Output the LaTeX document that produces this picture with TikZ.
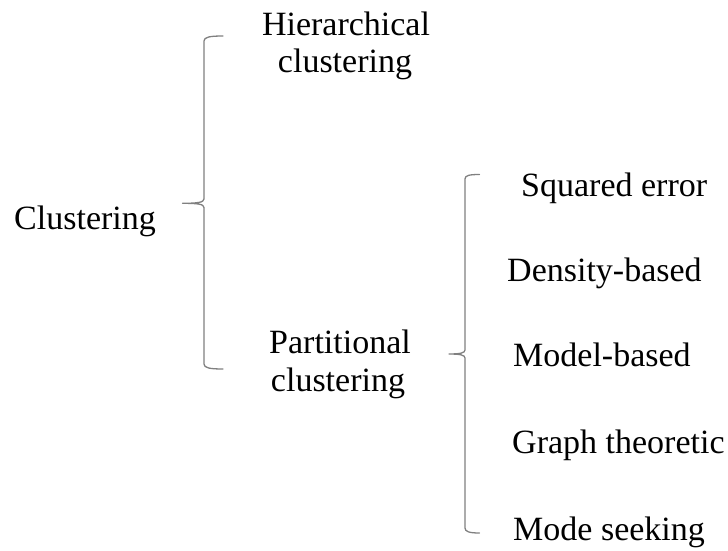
\documentclass[tikz,border=0pt]{standalone}
\usepackage{fontspec}
\setmainfont{Liberation Serif}
\begin{document}
\begin{tikzpicture}[x=1pt,y=1pt,
  label/.style={inner sep=0pt, font=\fontsize{34}{40}\selectfont},
  brace/.style={draw=black!50, line width=1.3pt, line cap=round, line join=round}]
\useasboundingbox (0,0) rectangle (728,550);

% root
\node[label, anchor=base west] (root) at (14,320.7) {Clustering};

% first level
\node[label, anchor=base] (hier1) at (346,514) {Hierarchical};
\node[label, anchor=base] (hier2) at (345,477) {clustering};
\node[label, anchor=base] (part1) at (340,196.5) {Partitional};
\node[label, anchor=base] (part2) at (338,158.8) {clustering};

% partitional methods
\node[label, anchor=base west] (sq)   at (521,354) {Squared error};
\node[label, anchor=base west] (dens) at (507,269) {Density-based};
\node[label, anchor=base west] (mod)  at (513,184) {Model-based};
\node[label, anchor=base west] (gr)   at (512,97)  {Graph theoretic};
\node[label, anchor=base west] (mode) at (513,9.5) {Mode seeking};

% brace grouping the two families
\coordinate (b1top) at (223,514);
\coordinate (b1tip) at (182.5,346.7);
\coordinate (b1bot) at (223,181);
\path[brace] (b1top) .. controls (210,514) and (204,513) .. (204,509)
  -- (204,351) .. controls (204,347.5) and (197,346.7) .. (b1tip)
  .. controls (197,346.7) and (204,346) .. (204,342.5)
  -- (204,186) .. controls (204,182) and (210,181) .. (b1bot);

% brace grouping the partitional methods
\coordinate (b2top) at (479.5,375.5);
\coordinate (b2tip) at (449,196);
\coordinate (b2bot) at (479.5,17);
\path[brace] (b2top) .. controls (469,375.5) and (465,374.5) .. (465,371)
  -- (465,200) .. controls (465,197) and (460,196) .. (b2tip)
  .. controls (460,196) and (465,195) .. (465,192)
  -- (465,22) .. controls (465,18.5) and (469,17) .. (b2bot);
\end{tikzpicture}
\end{document}
